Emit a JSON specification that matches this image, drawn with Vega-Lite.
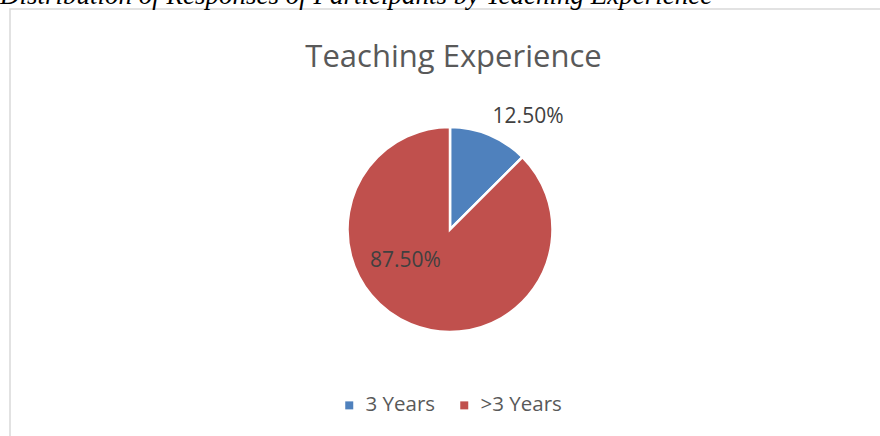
{
  "$schema": "https://vega.github.io/schema/vega-lite/v6.json",
  "autosize": {"type": "none"},
  "width": 874,
  "height": 431,
  "padding": {"left": 10, "top": 9, "right": -4, "bottom": -4},
  "background": "white",
  "view": {"stroke": "#D9D9D9", "strokeWidth": 1.5},
  "data": {
    "values": [
      {"category": "3 Years", "value": 12.5, "label": "12.50%"},
      {"category": ">3 Years", "value": 87.5, "label": "87.50%"}
    ]
  },
  "layer": [
    {
      "mark": {"type": "arc", "radius": 102.5, "stroke": "white", "strokeWidth": 2.5, "xOffset": 3, "yOffset": 5},
      "encoding": {
        "theta": {"field": "value", "type": "quantitative", "stack": true},
        "color": {
          "field": "category",
          "type": "nominal",
          "scale": {"domain": ["3 Years", ">3 Years"], "range": ["#4F81BD", "#C0504D"]},
          "legend": {
            "title": null,
            "orient": "none",
            "direction": "horizontal",
            "legendX": 329,
            "legendY": 386,
            "symbolType": "square",
            "symbolSize": 64,
            "symbolStrokeWidth": 0,
            "labelFont": "Open Sans",
            "labelFontSize": 20.5,
            "labelColor": "#595959",
            "labelOffset": 6,
            "columnPadding": 18
          }
        }
      }
    },
    {
      "mark": {"type": "text", "radius": 130, "dx": 31.3, "dy": 18.9, "baseline": "alphabetic", "align": "center", "font": "Open Sans", "fontSize": 21, "color": "#404040"},
      "encoding": {
        "theta": {"field": "value", "type": "quantitative", "stack": true},
        "detail": {"field": "category", "type": "nominal"},
        "text": {"condition": {"test": "datum.category === '3 Years'", "field": "label", "type": "nominal"}, "value": ""}
      }
    },
    {
      "mark": {"type": "text", "radius": 50, "dx": -22.4, "dy": -4, "baseline": "alphabetic", "align": "center", "font": "Open Sans", "fontSize": 21, "color": "#404040"},
      "encoding": {
        "theta": {"field": "value", "type": "quantitative", "stack": true},
        "detail": {"field": "category", "type": "nominal"},
        "text": {"condition": {"test": "datum.category === '>3 Years'", "field": "label", "type": "nominal"}, "value": ""}
      }
    },
    {
      "data": {"values": [{"t": "Teaching Experience"}]},
      "mark": {"type": "text", "dx": 6.5, "dy": -157.8, "baseline": "alphabetic", "align": "center", "font": "Open Sans", "fontSize": 31, "color": "#595959"},
      "encoding": {"text": {"field": "t", "type": "nominal"}}
    },
    {
      "data": {"values": [{"t": "Distribution of Responses of Participants by Teaching Experience"}]},
      "mark": {"type": "text", "dx": -447, "dy": -221, "baseline": "alphabetic", "align": "left", "font": "Liberation Serif", "fontStyle": "italic", "fontSize": 27, "color": "black"},
      "encoding": {"text": {"field": "t", "type": "nominal"}}
    }
  ]
}
